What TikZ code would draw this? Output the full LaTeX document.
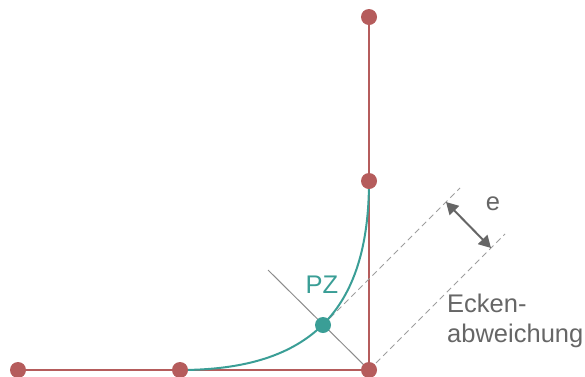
\documentclass[tikz,border=0pt]{standalone}
\usepackage{fontspec}
\setmainfont{Liberation Sans}
\usetikzlibrary{arrows.meta}
\definecolor{redc}{HTML}{B55C5C}
\definecolor{tealc}{HTML}{3A9E96}
\definecolor{grayt}{HTML}{666666}
\definecolor{grayl}{HTML}{8C8C8C}
\definecolor{grayd}{HTML}{9E9E9E}
\begin{document}
\begin{tikzpicture}[x=1bp,y=-1bp,
  reddot/.style={circle,fill=redc,inner sep=0pt,minimum size=16bp},
  tealdot/.style={circle,fill=tealc,inner sep=0pt,minimum size=16bp},
  redline/.style={draw=redc,line width=2bp},
  tealline/.style={draw=tealc,line width=2bp},
  thinline/.style={draw=grayl,line width=1bp},
  dashline/.style={draw=grayd,line width=1bp,dash pattern=on 6bp off 4bp},
  dimarrow/.style={draw=grayt,line width=2bp,{Triangle[length=12bp,width=13bp]}-{Triangle[length=12bp,width=13bp]}},
  lbl/.style={inner sep=0pt,font=\fontsize{25.6}{30}\selectfont}
]
\useasboundingbox (0,0) rectangle (585,376);
% points
\coordinate (tc) at (369,17);
\coordinate (mc) at (369,181);
\coordinate (cc) at (369,370);
\coordinate (hc) at (180,370);
\coordinate (lc) at (18,370);
\coordinate (pc) at (323,325);
\coordinate (g1) at (268,270);
\coordinate (d1) at (460,188);
\coordinate (d2) at (505,234);
\coordinate (a1) at (446,202);
\coordinate (a2) at (491,248);
% lines
\draw[redline] (tc) -- (cc);
\draw[redline] (lc) -- (cc);
\draw[thinline] (g1) -- (cc);
\draw[dashline] (pc) -- (d1);
\draw[dashline] (cc) -- (d2);
\draw[tealline] (mc) .. controls (369,311) and (310,370) .. (hc);
\draw[dimarrow] (a1) -- (a2);
% dots
\node[reddot] (t) at (tc) {};
\node[reddot] (m) at (mc) {};
\node[reddot] (c) at (cc) {};
\node[reddot] (h) at (hc) {};
\node[reddot] (l) at (lc) {};
\node[tealdot] (pz) at (pc) {};
% labels
\node[lbl,text=tealc,anchor=base] (pzl) at (322,293) {PZ};
\node[lbl,text=grayt,anchor=base] (el) at (493,210) {e};
\node[lbl,text=grayt,anchor=base west,align=left] (ek) at (447,342) {Ecken-\\abweichung};
\end{tikzpicture}
\end{document}
